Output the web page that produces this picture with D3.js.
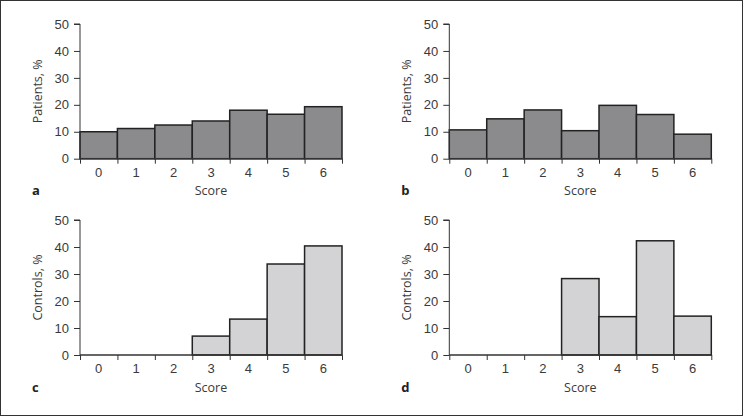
<!DOCTYPE html>
<html>
<head>
<meta charset="utf-8">
<script src="https://cdn.jsdelivr.net/npm/d3@7"></script>
<style>
  body { margin: 0; background: #fff; }
  svg { display: block; font-family: "Open Sans", "Noto Sans", sans-serif; }
</style>
</head>
<body>
<div id="chart"></div>
<script>
// Data
const scores = ["0", "1", "2", "3", "4", "5", "6"];
const patientsA = [10, 11.2, 12.5, 14, 18, 16.5, 19.3];
const patientsB = [10.7, 14.8, 18.1, 10.4, 19.8, 16.4, 9.1];
const controlsC = [0, 0, 0, 7, 13.3, 33.7, 40.4];
const controlsD = [0, 0, 0, 28.3, 14.2, 42.3, 14.4];
const yTicks = [0, 10, 20, 30, 40, 50];

const W = 743, H = 416;

const panels = [
  { letter: "a", values: patientsA, label: "Patients, %", fill: "#8b8b8d", x0: 80, x1: 342, top: 24, bottom: 158.7 },
  { letter: "b", values: patientsB, label: "Patients, %", fill: "#8b8b8d", x0: 449.3, x1: 711.3, top: 24, bottom: 158.7 },
  { letter: "c", values: controlsC, label: "Controls, %", fill: "#d3d3d5", x0: 80, x1: 342, top: 220, bottom: 355 },
  { letter: "d", values: controlsD, label: "Controls, %", fill: "#d3d3d5", x0: 449.3, x1: 711.3, top: 220, bottom: 355 }
];

const svg = d3.select("#chart").append("svg")
  .attr("width", W)
  .attr("height", H);

// outer frame
svg.append("rect")
  .attr("x", 0.5).attr("y", 0.5)
  .attr("width", W - 1).attr("height", H - 1)
  .attr("fill", "none")
  .attr("stroke", "#333");

const axisColor = "#333";
const textColor = "#3a3a3a";

panels.forEach(p => {
  const g = svg.append("g");

  const x = d3.scaleBand().domain(scores).range([p.x0, p.x1]).padding(0);
  const xEdge = d3.scaleLinear().domain([0, scores.length]).range([p.x0, p.x1]);
  const y = d3.scaleLinear().domain([0, 50]).range([p.bottom, p.top]);

  // bars (zero values are not drawn)
  g.selectAll("rect.bar")
    .data(p.values.map((v, i) => ({ s: scores[i], v })).filter(d => d.v > 0))
    .enter()
    .append("rect")
    .attr("class", "bar")
    .attr("x", d => x(d.s))
    .attr("y", d => y(d.v))
    .attr("width", x.bandwidth())
    .attr("height", d => y(0) - y(d.v))
    .attr("fill", p.fill)
    .attr("stroke", "#222")
    .attr("stroke-width", 1.5);

  // y axis
  const yAxis = g.append("g")
    .attr("transform", `translate(${p.x0},0)`)
    .call(d3.axisLeft(y).tickValues(yTicks).tickSize(6).tickPadding(5));
  yAxis.select(".domain").attr("stroke", axisColor).attr("d", `M-6,${p.top}H0V${p.bottom}`);
  yAxis.selectAll(".tick line").attr("stroke", axisColor);
  yAxis.selectAll(".tick text")
    .attr("fill", textColor)
    .style("font-size", "13px");

  // x axis: line plus ticks at bin edges
  const xAxis = g.append("g")
    .attr("transform", `translate(0,${p.bottom})`)
    .call(d3.axisBottom(xEdge).tickValues(d3.range(0, 8)).tickSize(5).tickFormat(""));
  xAxis.select(".domain").attr("stroke", axisColor).attr("stroke-width", 1.5).attr("d", `M${p.x0},0H${p.x1}`);
  xAxis.selectAll(".tick line").attr("stroke", axisColor);

  // category labels at bin centres
  const xLabels = g.append("g")
    .attr("transform", `translate(0,${p.bottom})`)
    .call(d3.axisBottom(x).tickSize(0).tickPadding(9));
  xLabels.select(".domain").remove();
  xLabels.selectAll(".tick text")
    .attr("fill", textColor)
    .style("font-size", "13px");

  // axis titles
  g.append("text")
    .attr("x", (p.x0 + p.x1) / 2)
    .attr("y", p.bottom + 36.5)
    .attr("text-anchor", "middle")
    .attr("fill", textColor)
    .style("font-size", "12.5px")
    .text("Score");

  g.append("text")
    .attr("transform", `translate(${p.x0 - 38},${(p.top + p.bottom) / 2}) rotate(-90)`)
    .attr("text-anchor", "middle")
    .attr("fill", textColor)
    .style("font-size", "12.5px")
    .text(p.label);

  // panel letter
  g.append("text")
    .attr("x", p.x0 - 48)
    .attr("y", p.bottom + 36.5)
    .attr("fill", "#222")
    .style("font-size", "13px")
    .style("font-weight", "bold")
    .text(p.letter);
});
</script>
</body>
</html>
